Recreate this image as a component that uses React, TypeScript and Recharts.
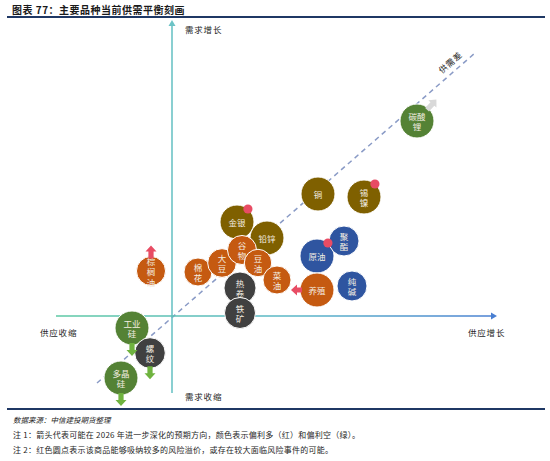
import React from "react";
import { ScatterChart, Scatter, XAxis, YAxis, ZAxis, ReferenceLine } from "recharts";

// 品种（按绘制先后排列，后画的压在上面）
const names = ["碳酸锂", "铜", "锡镍", "金银", "铅锌", "原油", "聚酯", "纯碱", "养殖", "棉花", "大豆", "谷物", "豆油", "菜油", "热卷", "铁矿", "棕榈油", "工业硅", "螺纹", "多晶硅"];
// 圆内文字换行，用 | 分隔
const labels = ["碳酸|锂", "铜", "锡|镍", "金银", "铅锌", "原油", "聚|酯", "纯|碱", "养殖", "棉|花", "大|豆", "谷|物", "豆|油", "菜|油", "热|卷", "铁|矿", "棕|榈|油", "工业|硅", "螺|纹", "多晶|硅"];
const sectors = ["新能源", "有色", "有色", "有色", "有色", "能化", "能化", "能化", "农产", "农产", "农产", "农产", "农产", "农产", "黑色", "黑色", "农产", "新能源", "黑色", "新能源"];
// 供应变化（横轴）、需求变化（纵轴）
const supply = [24.5, 14.6, 19.2, 6.5, 9.5, 14.5, 17.2, 18.0, 14.5, 2.6, 5.0, 7.0, 8.6, 10.5, 6.8, 6.8, -2.1, -4.0, -2.2, -5.1];
const demand = [19.5, 12.2, 11.9, 9.4, 7.8, 6.0, 7.5, 3.0, 2.6, 4.4, 5.3, 6.6, 5.3, 3.6, 2.8, 0.3, 4.5, -1.2, -3.7, -6.2];
const weight = [1, 1, 1, 1, 1, 1, 0.78, 0.78, 1, 0.68, 0.71, 0.73, 0.65, 0.68, 0.89, 0.83, 0.73, 1, 0.81, 1];
// 2026 年预期方向与偏向
const trend = ["斜上", "", "", "", "", "", "", "", "左", "", "", "", "", "", "", "", "上", "下", "下", "下"];
const tone = ["中性", "", "", "", "", "", "", "", "利多", "", "", "", "", "", "", "", "利多", "利空", "利空", "利空"];
const riskPremium = ["锡镍", "金银", "原油"];

const supplyDomain = [-17.2, 37.8];
const demandDomain = [-14.5, 31.6];

const SECTOR_COLOR: Record<string, string> = {
  新能源: "#548235",
  有色: "#7f6000",
  能化: "#2f55a0",
  农产: "#c55a11",
  黑色: "#404040",
};
const TONE_COLOR: Record<string, string> = { 利多: "#e84c64", 利空: "#6fb33f", 中性: "#d9d9d9" };
const TREND_ANGLE: Record<string, number> = { 上: -90, 下: 90, 左: 180, 斜上: -48 };

const FONT = '"Noto Sans CJK SC", "Noto Sans", sans-serif';

const rows = names.map((n, i) => ({
  name: n,
  label: labels[i],
  sector: sectors[i],
  x: supply[i],
  y: demand[i],
  w: weight[i],
  trend: trend[i],
  tone: tone[i],
  risk: riskPremium.includes(n),
}));

const radiusOf = (p: any) => (p.width ? p.width / 2 : 17 * Math.sqrt(p.payload.w));

function Bubble(props: any) {
  const { cx, cy, payload } = props;
  const r = radiusOf(props);
  const lines: string[] = payload.label.split("|");
  const lh = 10.5;
  return (
    <g>
      <circle cx={cx} cy={cy} r={r} fill={SECTOR_COLOR[payload.sector]} stroke="#ffffff" strokeWidth={1} />
      {lines.map((t, i) => (
        <text
          key={i}
          x={cx}
          y={cy + (i - (lines.length - 1) / 2) * lh}
          textAnchor="middle"
          dominantBaseline="central"
          fontSize={8.5}
          fontFamily={FONT}
          fill="#f4eee2"
        >
          {t}
        </text>
      ))}
    </g>
  );
}

function Marks(props: any) {
  const { cx, cy, payload } = props;
  const r = radiusOf(props);
  const parts: React.ReactNode[] = [];
  if (payload.trend) {
    const a = TREND_ANGLE[payload.trend];
    const rad = (a * Math.PI) / 180;
    const L = payload.trend === "斜上" ? 14 : payload.trend === "左" ? 11 : 13;
    const sx = cx + Math.cos(rad) * (r - 2);
    const sy = cy + Math.sin(rad) * (r - 2);
    const h = 6;
    const pts = `0,-2.6 ${L - h},-2.6 ${L - h},-5.5 ${L},0 ${L - h},5.5 ${L - h},2.6 0,2.6`;
    parts.push(
      <polygon key="a" points={pts} fill={TONE_COLOR[payload.tone]} transform={`translate(${sx},${sy}) rotate(${a})`} />
    );
  }
  if (payload.risk) {
    const rad = (-50 * Math.PI) / 180;
    parts.push(
      <circle key="d" cx={cx + Math.cos(rad) * r} cy={cy + Math.sin(rad) * r} r={4.6} fill="#e84c64" />
    );
  }
  return <g>{parts}</g>;
}

function VerticalAxis(props: any) {
  const { x1, y1, x2, y2 } = props;
  return (
    <g>
      <line x1={x1} y1={y1} x2={x2} y2={y2 + 4} stroke="#6cc3c6" strokeWidth={1.6} />
      <polygon points={`${x2 - 3.5},${y2 + 6} ${x2},${y2} ${x2 + 3.5},${y2 + 6}`} fill="#6cc3c6" />
    </g>
  );
}

function HorizontalAxis(props: any) {
  const { x1, y1, x2, y2 } = props;
  return (
    <g>
      <defs>
        <linearGradient id="hAxisGrad" gradientUnits="userSpaceOnUse" x1={x1} y1={y1} x2={x2} y2={y2}>
          <stop offset="0%" stopColor="#5ec9a4" />
          <stop offset="55%" stopColor="#5ab6c8" />
          <stop offset="100%" stopColor="#4a7fd2" />
        </linearGradient>
      </defs>
      <line x1={x1} y1={y1} x2={x2 - 4} y2={y2} stroke="url(#hAxisGrad)" strokeWidth={1.6} />
      <polygon points={`${x2 - 6},${y2 - 3.5} ${x2},${y2} ${x2 - 6},${y2 + 3.5}`} fill="#4a7fd2" />
    </g>
  );
}

const textBase: React.CSSProperties = {
  position: "absolute",
  fontFamily: FONT,
  color: "#262626",
  whiteSpace: "nowrap",
  lineHeight: 1,
  transform: "translateY(-50%)",
};

export default function App() {
  return (
    <div style={{ position: "absolute", left: 0, top: 0, width: 550, height: 461, background: "#ffffff", overflow: "hidden" }}>
      <div style={{ ...textBase, left: 12, top: 10, fontSize: 10, fontWeight: 700, letterSpacing: 0.5, color: "#1a1a1a" }}>
        图表 77：主要品种当前供需平衡刻画
      </div>
      <div style={{ position: "absolute", left: 7, top: 16, width: 538, height: 2, background: "#1f3864" }} />

      <div style={{ position: "absolute", left: 0, top: 0 }}>
        <ScatterChart width={550} height={461} margin={{ top: 0, right: 0, bottom: 0, left: 0 }}>
          <XAxis type="number" dataKey="x" domain={supplyDomain} allowDataOverflow hide />
          <YAxis type="number" dataKey="y" domain={demandDomain} allowDataOverflow hide />
          <ZAxis type="number" dataKey="w" domain={[0, 1]} range={[0, 908]} />
          <ReferenceLine
            segment={[{ x: -7.5, y: -6.7 }, { x: 30.3, y: 26.3 }]}
            stroke="#8a9bc6"
            strokeWidth={1.5}
            strokeDasharray="5 4"
          />
          <ReferenceLine segment={[{ x: 0, y: -7.7 }, { x: 0, y: 29.6 }]} shape={VerticalAxis} />
          <ReferenceLine segment={[{ x: -11.6, y: 0 }, { x: 32.5, y: 0 }]} shape={HorizontalAxis} />
          <Scatter data={rows} shape={Bubble} isAnimationActive={false} />
          <Scatter data={rows} shape={Marks} isAnimationActive={false} />
        </ScatterChart>
      </div>

      <div style={{ ...textBase, left: 185, top: 29, fontSize: 8.5, letterSpacing: 0.8 }}>需求增长</div>
      <div style={{ ...textBase, left: 185, top: 396, fontSize: 8.5, letterSpacing: 0.8 }}>需求收缩</div>
      <div style={{ ...textBase, left: 40, top: 332, fontSize: 8.5, letterSpacing: 0.8 }}>供应收缩</div>
      <div style={{ ...textBase, left: 468, top: 332, fontSize: 8.5, letterSpacing: 0.8 }}>供应增长</div>
      <div
        style={{
          ...textBase,
          left: 450,
          top: 62,
          fontSize: 8.5,
          letterSpacing: 0.8,
          transform: "translate(-50%, -50%) rotate(-41deg)",
        }}
      >
        供需差
      </div>

      <div style={{ position: "absolute", left: 7, top: 408, width: 538, height: 2, background: "#1f3864" }} />
      <div style={{ ...textBase, left: 13, top: 420, fontSize: 7.5, fontStyle: "italic" }}>数据来源：中信建投期货整理</div>
      <div style={{ ...textBase, left: 13, top: 435, fontSize: 8, letterSpacing: 0.25 }}>
        注 1：箭头代表可能在 2026 年进一步深化的预期方向，颜色表示偏利多（红）和偏利空（绿）。
      </div>
      <div style={{ ...textBase, left: 13, top: 450, fontSize: 8, letterSpacing: 0.25 }}>
        注 2：红色圆点表示该商品能够吸纳较多的风险溢价，或存在较大面临风险事件的可能。
      </div>
    </div>
  );
}
